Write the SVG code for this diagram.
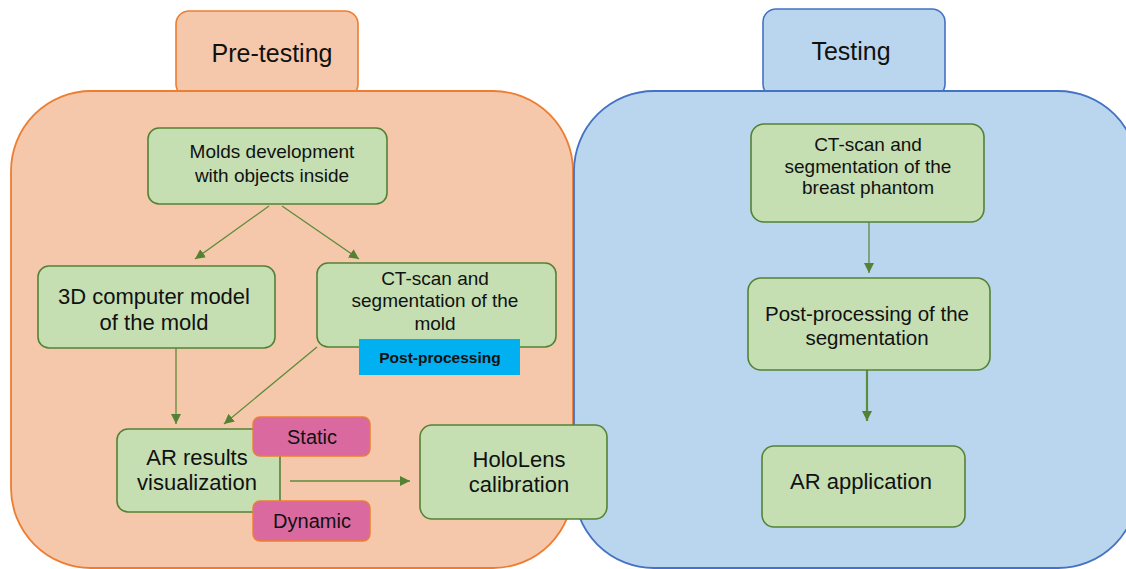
<svg xmlns="http://www.w3.org/2000/svg" width="1126" height="569" viewBox="0 0 1126 569">
  <style>
    text { font-family: "Liberation Sans", Arial, sans-serif; fill: #111; text-anchor: middle; }
    .tab-o { fill: #F6C8AB; stroke: #ED7D31; stroke-width: 1.6; }
    .tab-b { fill: #BAD6EE; stroke: #4472C4; stroke-width: 1.6; }
    .panel-o { fill: #F6C8AB; stroke: #ED7D31; stroke-width: 1.8; }
    .panel-b { fill: #BAD6EE; stroke: #4472C4; stroke-width: 1.8; }
    .step { fill: #C5DFB3; stroke: #548235; stroke-width: 1.6; }
    .mode { fill: #DA69A0; stroke: #ED7D31; stroke-width: 1.4; }
    .tag { fill: #00B0F0; }
    .title { font-size: 25px; }
    .t19 { font-size: 19px; }
    .t20 { font-size: 20.5px; }
    .t22 { font-size: 22px; }
    .mode-text { font-size: 20px; }
    .tag-text { font-size: 15.5px; font-weight: bold; }
    .link { stroke: #5B8C3C; stroke-width: 1.3; fill: none; marker-end: url(#arrow); }
    .link.bold { stroke-width: 2.2; }
  </style>
  <defs>
    <marker id="arrow" markerUnits="userSpaceOnUse" markerWidth="10" markerHeight="10" refX="10" refY="5" orient="auto">
      <path d="M0,0 L10,5 L0,10 z" fill="#548235"/>
    </marker>
  </defs>

  <rect width="1126" height="569" fill="#FFFFFF"/>

  <!-- phase headers -->
  <g id="pretesting-tab">
    <rect class="tab-o" x="176" y="11" width="182" height="86" rx="13"/>
    <text class="title" x="272" y="62">Pre-testing</text>
  </g>
  <g id="testing-tab">
    <rect class="tab-b" x="763" y="9" width="182" height="88" rx="13"/>
    <text class="title" x="851" y="60">Testing</text>
  </g>

  <!-- phase panels -->
  <g id="pretesting-panel">
    <rect class="panel-o" x="11" y="91" width="562" height="477" rx="80"/>
  </g>
  <g id="testing-panel">
    <rect class="panel-b" x="574" y="91" width="564" height="477" rx="80"/>
  </g>

  <!-- connectors -->
  <g id="connectors">
    <line class="link" x1="269" y1="206" x2="195" y2="259"/>
    <line class="link" x1="282" y1="206" x2="359" y2="259"/>
    <line class="link" x1="176" y1="348" x2="176" y2="424"/>
    <line class="link" x1="317" y1="347" x2="224" y2="424"/>
    <line class="link" x1="290" y1="481" x2="410" y2="481"/>
    <line class="link" x1="869" y1="222" x2="869" y2="273"/>
    <line class="link bold" x1="867" y1="370" x2="867" y2="421"/>
  </g>

  <!-- pre-testing steps -->
  <g id="molds">
    <rect class="step" x="148" y="128" width="239" height="76" rx="11"/>
    <text class="t19" x="272" y="158">Molds development</text>
    <text class="t19" x="272" y="182">with objects inside</text>
  </g>
  <g id="model-3d">
    <rect class="step" x="38" y="266" width="237" height="82" rx="11"/>
    <text class="t22" x="154" y="304">3D computer model</text>
    <text class="t22" x="154" y="330">of the mold</text>
  </g>
  <g id="ct-mold">
    <rect class="step" x="317" y="263" width="239" height="84" rx="11"/>
    <text class="t19" x="435" y="285">CT-scan and</text>
    <text class="t19" x="435" y="307">segmentation of the</text>
    <text class="t19" x="435" y="330">mold</text>
  </g>
  <g id="post-processing-tag">
    <rect class="tag" x="359" y="339" width="161" height="36"/>
    <text class="tag-text" x="440" y="363">Post-processing</text>
  </g>
  <g id="ar-results">
    <rect class="step" x="117" y="429" width="163" height="83" rx="11"/>
    <text class="t22" x="197" y="465">AR results</text>
    <text class="t22" x="197" y="490">visualization</text>
  </g>
  <g id="static">
    <rect class="mode" x="253" y="417" width="117" height="39" rx="7"/>
    <text class="mode-text" x="312" y="444">Static</text>
  </g>
  <g id="dynamic">
    <rect class="mode" x="253" y="501" width="117" height="40" rx="7"/>
    <text class="mode-text" x="312" y="528">Dynamic</text>
  </g>
  <g id="hololens">
    <rect class="step" x="420" y="425" width="187" height="94" rx="12"/>
    <text class="t22" x="519" y="467">HoloLens</text>
    <text class="t22" x="519" y="492">calibration</text>
  </g>

  <!-- testing steps -->
  <g id="ct-phantom">
    <rect class="step" x="751" y="124" width="233" height="98" rx="13"/>
    <text class="t19" x="868" y="151">CT-scan and</text>
    <text class="t19" x="868" y="173">segmentation of the</text>
    <text class="t19" x="868" y="194">breast phantom</text>
  </g>
  <g id="post-processing">
    <rect class="step" x="748" y="278" width="242" height="92" rx="13"/>
    <text class="t20" x="867" y="321">Post-processing of the</text>
    <text class="t20" x="867" y="345">segmentation</text>
  </g>
  <g id="ar-application">
    <rect class="step" x="762" y="446" width="203" height="81" rx="12"/>
    <text class="t22" x="861" y="489">AR application</text>
  </g>
</svg>
